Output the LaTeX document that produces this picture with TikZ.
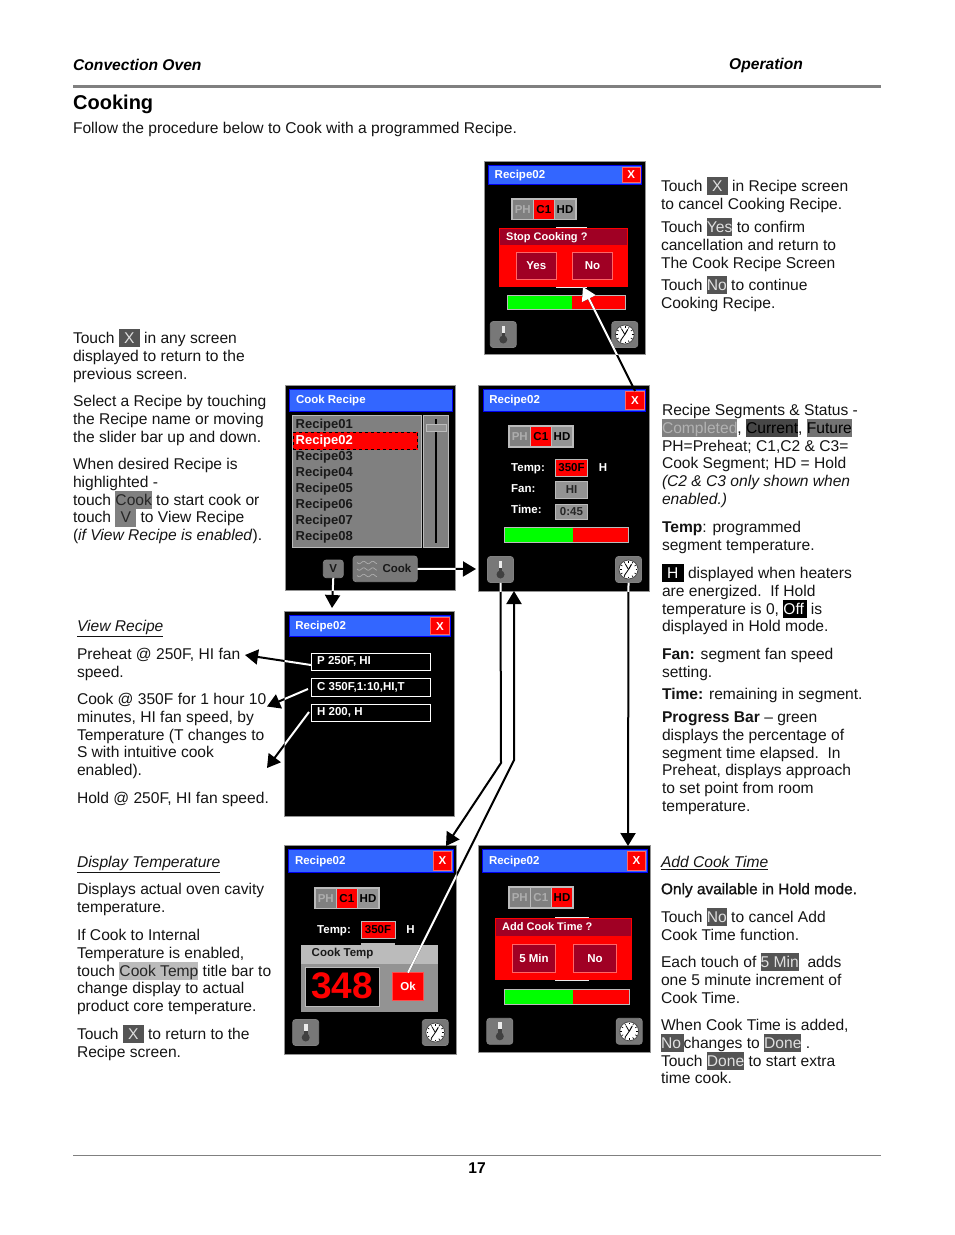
\documentclass[tikz,border=0pt]{standalone}
\usepackage{fontspec}
\setmainfont{Liberation Sans}
\newfontface\heavyface{Liberation Sans}[FakeBold=1.1]
\usetikzlibrary{arrows.meta, calc}

\definecolor{barblue}{HTML}{3366FF}
\definecolor{barrim}{HTML}{0000F0}
\definecolor{alarmred}{HTML}{FF0000}
\definecolor{wine}{HTML}{A00024}
\definecolor{rimgray}{HTML}{BBBBBB}
\definecolor{panelgray}{HTML}{808080}
\definecolor{ruleline}{HTML}{808080}
\definecolor{btngray}{HTML}{787878}

\tikzset{
	bodytext/.style={anchor=north west, inner sep=0pt, outer sep=0pt, align=left, yshift=.8pt,
		font=\fontsize{15.6}{17.9}\selectfont, text=black!92},
	celltext/.style={inner sep=0pt, font=\fontsize{11.5}{13}\selectfont\bfseries},
	uilabel/.style={celltext, yshift=-.8pt},
	screenbox/.style={fill=black, draw=gray!85, line width=1pt},
	titlebar/.style={fill=barblue, draw=barrim, line width=1pt},
	closebtn/.style={fill=alarmred, draw=red!60!white, line width=.8pt,
		text=white, font=\fontsize{11.5}{13}\selectfont\bfseries},
	cellgone/.style={fill=panelgray, text=white!68!black},
	cellnow/.style={fill=alarmred, text=black},
	cellnext/.style={fill=gray!85, text=black},
	valuebox/.style={fill=gray!85, draw=rimgray, line width=1pt, text=black!85,
		font=\fontsize{11.5}{13}\selectfont\bfseries},
	redvalue/.style={fill=alarmred, draw=rimgray, line width=1pt, text=black,
		font=\fontsize{11.5}{13}\selectfont\bfseries},
	winebtn/.style={fill=wine, draw=red!60!white, line width=.8pt, text=white,
		font=\fontsize{11.5}{13}\selectfont\bfseries},
	iconbtn/.style={fill=btngray, draw=gray, line width=.8pt, rounded corners=3pt},
	linebox/.style={fill=black, draw=white, line width=1pt},
	flow/.style={line width=2pt, -{Triangle[length=13pt,width=15pt]}}
}

% generic box from two corners, in reference pixels
\newcommand{\uibox}[7]{\node[inner sep=0pt, outer sep=0pt,
	minimum width={((#5)-(#3))*1pt}, minimum height={((#6)-(#4))*1pt}, #1]
	(#2) at ({((#3)+(#5))/2},{((#4)+(#6))/2}) {#7};}

% black panel with its blue title bar
\newcommand{\screenbase}[7]{
	\uibox{screenbox}{#1}{#2}{#3}{#4}{#5}{}
	\uibox{titlebar}{#1bar}{#2+4.4}{#3+4}{#4-3.7}{#6}{}
	\node[uilabel, anchor=west, text=white] (#1title) at ({#2+10.5},{(#3+4+#6)/2}) {#7};
}
\newcommand{\xbutton}[5]{\uibox{closebtn}{#1x}{#4-23.5}{#3+6}{#4-5}{#5-2}{X}}

% three status cells
\newcommand{\segrow}[7]{
	\uibox{fill=rimgray}{#1seg}{#2}{#3}{#2+65.4}{#3+22.4}{}
	\uibox{#4,celltext}{#1ph}{#2+1.5}{#3+1.5}{#2+21.5}{#3+20.9}{PH}
	\uibox{#5,celltext}{#1cc}{#2+22.5}{#3+1.5}{#2+42.5}{#3+20.9}{C1}
	\uibox{#6,celltext}{#1hd}{#2+43.5}{#3+1.5}{#2+63.9}{#3+20.9}{#7}
}
\newcommand{\progressbar}[6]{
	\uibox{fill=alarmred, draw=rimgray, line width=1pt}{#1}{#2}{#3}{#4}{#5}{}
	\fill[green] (#2+.5,#3+.5) rectangle (#6,#5-.5);
}

% thermometer button and clock button, centred on the given point
\newcommand{\thermobtn}[3]{
	\uibox{iconbtn}{#1}{#2-13}{#3-13}{#2+13}{#3+13}{}
	\begin{scope}[shift={(#1.center)}]
		\fill[white!85!gray] (-1.8,-9) rectangle (1.8,-1);
		\fill[black!75] (-1.8,-2) rectangle (1.8,4);
		\fill[black!75] (0,5) circle (4);
	\end{scope}
}
\newcommand{\clockbtn}[3]{
	\uibox{iconbtn}{#1}{#2-13}{#3-13}{#2+13}{#3+13}{}
	\begin{scope}[shift={(#1.center)}]
		\draw[fill=white, draw=black!70, line width=.8pt] (0,0) circle (9.5);
		\foreach \a in {0,30,...,330}{
			\draw[line width=.6pt] (\a:7) -- (\a:8.8);
		}
		\draw[line width=1pt] (0,0) -- (-60:6);
		\draw[line width=.8pt] (0,0) -- (125:7.5);
		\draw[line width=.8pt] (0,0) -- (-120:6.5);
	\end{scope}
}

% black arrow, redrawn in white where it crosses the screen #1
\newcommand{\flowpath}[2]{
	\draw[flow] #2;
	\begin{scope}
		\clip (#1.north west) rectangle (#1.south east);
		\draw[flow, white] #2;
	\end{scope}
}

% first line height, so that a node's top sets its first baseline
\newcommand{\lead}{\rule{0pt}{14pt}}
% text with a tight coloured backing
\newcommand{\hlt}[3]{{\setlength{\fboxsep}{0pt}\colorbox{#1}{\rule[-3.6pt]{0pt}{17.4pt}\textcolor{#2}{#3}}}}
\newcommand{\hdark}[1]{\hlt{black!67}{white!88!black}{#1}}
\newcommand{\hmid}[1]{\hlt{panelgray}{black!85}{#1}}
\newcommand{\hblack}[1]{\hlt{black}{white}{#1}}

\begin{document}
\begin{tikzpicture}[x=1pt, y=-1pt, >=Latex, line cap=butt]
	\useasboundingbox (0,0) rectangle (954,1235);
	
	% ===============================
	% ========== PAGE FRAME =========
	% ===============================
	\node[anchor=west, inner sep=0pt, font=\fontsize{15.6}{18}\selectfont\bfseries\itshape] (headLeft) at (73,65) {Convection Oven};
	\node[anchor=west, inner sep=0pt, font=\fontsize{15.6}{18}\selectfont\bfseries\itshape] (headRight) at (729,65) {Operation};
	\draw[ruleline, line width=3pt] (73,86.5) -- (881,86.5);
	\node[anchor=west, inner sep=0pt, font=\fontsize{20}{22}\selectfont\bfseries] (pageTitle) at (73,104.5) {Cooking};
	\node[bodytext] (intro) at (73,120.5) {\lead Follow the procedure below to Cook with a programmed Recipe.};
	\draw[ruleline, line width=1.2pt] (73,1155.5) -- (881,1155.5);
	\node[inner sep=0pt, font=\fontsize{15.6}{18}\selectfont\bfseries] (pageNo) at (477,1168.5) {17};
	
	% ===============================
	% ========= LEFT COLUMN =========
	% ===============================
	\node[bodytext] (txtAnyX) at (73,330) {\lead Touch \hdark{\,\,X\,\,} in any screen\\displayed to return to the\\previous screen.};
	\node[bodytext] (txtSelect) at (73,393) {\lead Select a Recipe by touching\\the Recipe name or moving\\the slider bar up and down.};
	\node[bodytext] (txtDesired) at (73,456) {\lead When desired Recipe is\\highlighted -\\touch \hmid{Cook} to start cook or\\touch \hmid{\,\,V\,\,} to View Recipe\\(\textit{if View Recipe is enabled}).};
	
	\node[bodytext] (txtViewHead) at (77,618) {\lead\underline{\textit{View Recipe}}};
	\node[bodytext] (txtPreheat) at (77,646) {\lead Preheat @ 250F, HI fan\\speed.};
	\node[bodytext] (txtCook) at (77,691) {\lead Cook @ 350F for 1 hour 10\\minutes, HI fan speed, by\\Temperature (T changes to\\S with intuitive cook\\enabled).};
	\node[bodytext] (txtHold) at (77,790) {\lead Hold @ 250F, HI fan speed.};
	
	\node[bodytext] (txtTempHead) at (77,854) {\lead\underline{\textit{Display Temperature}}};
	\node[bodytext] (txtCavity) at (77,881) {\lead Displays actual oven cavity\\temperature.};
	\node[bodytext] (txtInternal) at (77,927) {\lead If Cook to Internal\\Temperature is enabled,\\touch \hlt{rimgray}{black!85}{Cook Temp} title bar to\\change display to actual\\product core temperature.};
	\node[bodytext] (txtReturn) at (77,1026) {\lead Touch \hdark{\,\,X\,\,} to return to the\\Recipe screen.};
	
	% ===============================
	% ======== RIGHT COLUMN =========
	% ===============================
	\node[bodytext] (txtCancel) at (661,178) {\lead Touch \hdark{\,\,X\,\,} in Recipe screen\\to cancel Cooking Recipe.};
	\node[bodytext] (txtYes) at (661,219) {\lead Touch \hdark{Yes} to confirm\\cancellation and return to\\The Cook Recipe Screen};
	\node[bodytext] (txtNo) at (661,277) {\lead Touch \hdark{No} to continue\\Cooking Recipe.};
	
	\node[bodytext] (txtSegments) at (662,402) {\lead Recipe Segments \& Status -\\\hlt{panelgray}{white!70!black}{Completed}, \hlt{black!72}{black}{Current}, \hlt{black!55}{black}{Future}\\PH=Preheat; C1,C2 \& C3=\\Cook Segment; HD = Hold\\\textit{(C2 \& C3 only shown when}\\\textit{enabled.)}};
	\node[bodytext] (txtTemp) at (662,519) {\lead\textbf{Temp}: programmed\\segment temperature.};
	\node[bodytext] (txtHeat) at (662,565) {\lead\hblack{\,\,H\,\,} displayed when heaters\\are energized.\ \ If Hold\\temperature is 0, \hblack{Off\,} is\\displayed in Hold mode.};
	\node[bodytext] (txtFan) at (662,646) {\lead\textbf{Fan:} segment fan speed\\setting.};
	\node[bodytext] (txtTime) at (662,686) {\lead\textbf{Time:} remaining in segment.};
	\node[bodytext] (txtBar) at (662,709) {\lead\textbf{Progress Bar} -- green\\displays the percentage of\\segment time elapsed.\ \ In\\Preheat, displays approach\\to set point from room\\temperature.};
	
	\node[bodytext] (txtAddHead) at (661,854) {\lead\underline{\textit{Add Cook Time}}};
	\node[bodytext] (txtOnly) at (661,881) {\lead{\heavyface\fontsize{15.4}{17.9}\selectfont Only available in Hold mode.}};
	\node[bodytext] (txtNoAdd) at (661,909) {\lead Touch \hdark{No} to cancel Add\\Cook Time function.};
	\node[bodytext] (txtEach) at (661,954) {\lead Each touch of \hdark{5 Min}\ \ adds\\one 5 minute increment of\\Cook Time.};
	\node[bodytext] (txtAdded) at (661,1017) {\lead When Cook Time is added,\\\hdark{No\,}changes to \hdark{Done} .\\Touch \hdark{Done} to start extra\\time cook.};
	
	% ===============================
	% ===== STOP COOKING SCREEN =====
	% ===============================
	\screenbase{scrStop}{484}{161}{645.5}{354}{184.5}{Recipe02}
	\xbutton{scrStop}{484}{161}{645.5}{184.5}
	\segrow{stop}{511.3}{198}{cellgone}{cellnow}{cellnext}{HD}
	\uibox{fill=white!85!gray}{stopField}{556}{226.5}{587}{287.5}{}
	\uibox{fill=alarmred}{stopPopup}{499}{228}{627.7}{286.7}{}
	\uibox{fill=wine}{stopStrip}{500}{229}{627}{245}{}
	\node[uilabel, anchor=west, text=white, font=\fontsize{11}{13}\selectfont\bfseries] (stopAsk) at (506,237) {Stop Cooking ?};
	\uibox{winebtn}{stopYes}{516}{252.3}{556.7}{279.7}{Yes}
	\uibox{winebtn}{stopNo}{572.3}{252.3}{612.7}{279.7}{No}
	\progressbar{stopBar}{507.3}{295.3}{625.3}{309.7}{571.7}
	\thermobtn{stopTherm}{503.3}{334.5}
	\clockbtn{stopClock}{624.8}{334.5}
	
	% ===============================
	% ===== COOK RECIPE SCREEN ======
	% ===============================
	\screenbase{scrList}{285.3}{385}{455.7}{590.7}{411}{Cook Recipe}
	\uibox{fill=panelgray, draw=rimgray, line width=1pt}{listBox}{292.3}{415}{421.7}{547.7}{}
	\uibox{fill=panelgray, draw=rimgray, line width=1pt}{sliderBox}{423.3}{415}{448.7}{547.7}{}
	\uibox{fill=alarmred, draw=black, dashed, line width=.8pt}{listMark}{293.3}{432.3}{417.7}{449.7}{}
	\foreach \n/\yy in {1/424.3,3/456.2,4/472.2,5/488.2,6/504.2,7/520.2,8/536.2}{
		\node[uilabel, anchor=west, text=black!90, font=\fontsize{13}{15}\selectfont\bfseries] (rowRecipe\n) at (295.5,\yy) {Recipe0\n};
	}
	\node[uilabel, anchor=west, text=white, font=\fontsize{13}{15}\selectfont\bfseries] (rowRecipe2) at (295.5,440.5) {Recipe02};
	\draw[line width=1.6pt] (435.7,419) -- (435.7,543);
	\uibox{fill=gray!85, draw=rimgray, line width=.8pt}{sliderThumb}{426}{424.3}{446.7}{431.7}{}
	\uibox{iconbtn}{btnV}{323.3}{560}{343.3}{577.7}{}
	\node[celltext, text=black!90] (btnVtext) at (btnV) {V};
	\uibox{iconbtn}{btnCook}{353}{556}{417.3}{581.7}{}
	\foreach \yy in {562.5,569,575.5}{
		\draw[gray!65, line width=.7pt] plot[domain=0:20, samples=30] ({357+\x},{\yy+1.2*sin(\x*40)});
	}
	\node[celltext, anchor=east, text=black!90] (btnCooktext) at (411.5,568.5) {Cook};
	
	% ===============================
	% ======= RUNNING SCREEN ========
	% ===============================
	\screenbase{scrRun}{478.7}{385}{649.3}{591.3}{411.3}{Recipe02}
	\xbutton{scrRun}{478.7}{385}{649.3}{411.3}
	\segrow{run}{508.3}{425.3}{cellgone}{cellnow}{cellnext}{HD}
	\node[uilabel, anchor=west, text=white] (runTempLbl) at (511,467.7) {Temp:};
	\uibox{redvalue}{runTemp}{555.3}{459.3}{587.7}{476.7}{350F}
	\node[celltext, text=white] (runH) at (603,467.7) {H};
	\node[celltext, anchor=west, text=white] (runFanLbl) at (511,489) {Fan:};
	\uibox{valuebox}{runFan}{555.3}{481.3}{587.7}{498.3}{HI}
	\node[celltext, anchor=west, text=white] (runTimeLbl) at (511,509.3) {Time:};
	\uibox{valuebox}{runTime}{555.3}{504}{587.7}{519.3}{0:45}
	\progressbar{runBar}{504.3}{527}{628.7}{542.3}{573}
	\thermobtn{runTherm}{500.5}{569.5}
	\clockbtn{runClock}{628.5}{569.5}
	
	% ===============================
	% ======== VIEW SCREEN ==========
	% ===============================
	\screenbase{scrView}{284.7}{611.7}{454.3}{816}{636.7}{Recipe02}
	\xbutton{scrView}{284.7}{611.7}{454.3}{636.7}
	\uibox{linebox}{boxP}{311.3}{653.3}{430.7}{670.3}{}
	\uibox{linebox}{boxC}{311.3}{678.3}{430.7}{696.3}{}
	\uibox{linebox}{boxH}{311.3}{704.3}{430.7}{721.3}{}
	\node[uilabel, anchor=west, text=white] (boxPtext) at (317,661) {P 250F, HI};
	\node[uilabel, anchor=west, text=white] (boxCtext) at (317,686.5) {C 350F,1:10,HI,T};
	\node[uilabel, anchor=west, text=white] (boxHtext) at (317,712) {H 200, H};
	
	% ===============================
	% ====== COOK TEMP SCREEN =======
	% ===============================
	\screenbase{scrTemp}{284.3}{845}{456.7}{1054.3}{872.3}{Recipe02}
	\xbutton{scrTemp}{284.3}{845}{456.7}{872.3}
	\segrow{temp}{314.3}{887}{cellgone}{cellnow}{cellnext}{HD}
	\node[uilabel, anchor=west, text=white] (tempLbl) at (317,929.5) {Temp:};
	\uibox{redvalue}{tempVal}{361}{921}{395}{938.7}{350F}
	\node[celltext, text=white] (tempH) at (410.5,929.5) {H};
	\uibox{fill=rimgray}{tempField}{361}{942.5}{395}{950}{}
	\uibox{fill=gray!85}{tempPopup}{301}{945}{437.7}{1011.7}{}
	\uibox{fill=rimgray}{tempStrip}{301}{945}{437.7}{964}{}
	\node[uilabel, anchor=west, text=black!90] (tempAsk) at (311.5,953) {Cook Temp};
	\uibox{fill=black, draw=rimgray, line width=1pt}{tempDisplay}{305.3}{967.3}{379}{1006.7}{}
	\node[inner sep=0pt, text=alarmred, font=\fontsize{37}{40}\selectfont\bfseries] (tempRead) at (342,986) {348};
	\uibox{fill=alarmred, draw=red!70!white, line width=.8pt, text=white, font=\fontsize{11.5}{13}\selectfont\bfseries}{tempOk}{392.3}{972.7}{423.7}{1000.7}{Ok}
	\thermobtn{tempTherm}{305.7}{1032.5}
	\clockbtn{tempClock}{435.3}{1032.5}
	
	% ===============================
	% ===== ADD COOK TIME SCREEN ====
	% ===============================
	\screenbase{scrAdd}{478.3}{845}{650.7}{1052.7}{872.3}{Recipe02}
	\xbutton{scrAdd}{478.3}{845}{650.7}{872.3}
	\segrow{add}{508.3}{886.3}{cellgone}{cellgone}{cellnow}{HD}
	\uibox{fill=white!85!gray}{addField}{555}{917}{589}{980.7}{}
	\uibox{fill=alarmred}{addPopup}{495}{918.3}{632}{979.7}{}
	\uibox{fill=wine}{addStrip}{496}{919.3}{631}{936}{}
	\node[celltext, anchor=west, text=white, font=\fontsize{11}{13}\selectfont\bfseries] (addAsk) at (502,926.5) {Add Cook Time ?};
	\uibox{winebtn}{addFive}{512.3}{944.3}{555.7}{972.3}{5 Min}
	\uibox{winebtn}{addNo}{573.3}{944.3}{616.7}{972.3}{No}
	\progressbar{addBar}{504.3}{989.3}{629.7}{1004.3}{573}
	\thermobtn{addTherm}{499.8}{1031.3}
	\clockbtn{addClock}{629.2}{1031.3}
	
	% ===============================
	% ========= CONNECTORS ==========
	% ===============================
	% tips and bends on the free ends
	\coordinate (stopTip) at (583,287);
	\coordinate (noteP) at (245,655);
	\coordinate (noteC) at (267,706.5);
	\coordinate (noteH) at (267,768);
	\coordinate (fromP) at (311,665);
	\coordinate (fromC) at (308,689);
	\coordinate (fromH) at (309,712);
	\coordinate (runTipIn) at (476,569);
	\coordinate (viewTip) at (332,608);
	\coordinate (bendDown) at (501,763);
	\coordinate (tempTip) at (446,846);
	\coordinate (bendUp) at (514,760);
	\coordinate (runTipUp) at (514,591);
	\coordinate (addTip) at (628,846);
	
	\flowpath{scrStop}{(scrRunx.north) -- (stopTip)}
	\flowpath{scrList}{(btnCook.east) -- (runTipIn)}
	\flowpath{scrList}{(btnV.south) -- (viewTip)}
	\flowpath{scrView}{(fromP) -- (noteP)}
	\flowpath{scrView}{(fromC) -- (noteC)}
	\flowpath{scrView}{(fromH) -- (noteH)}
	\flowpath{scrRun}{(runTherm.south) -- (bendDown) -- (tempTip)}
	\flowpath{scrTemp}{(tempOk.north) -- (bendUp) -- (runTipUp)}
	\flowpath{scrRun}{(runClock.south) -- (addTip)}
	
\end{tikzpicture}
\end{document}
